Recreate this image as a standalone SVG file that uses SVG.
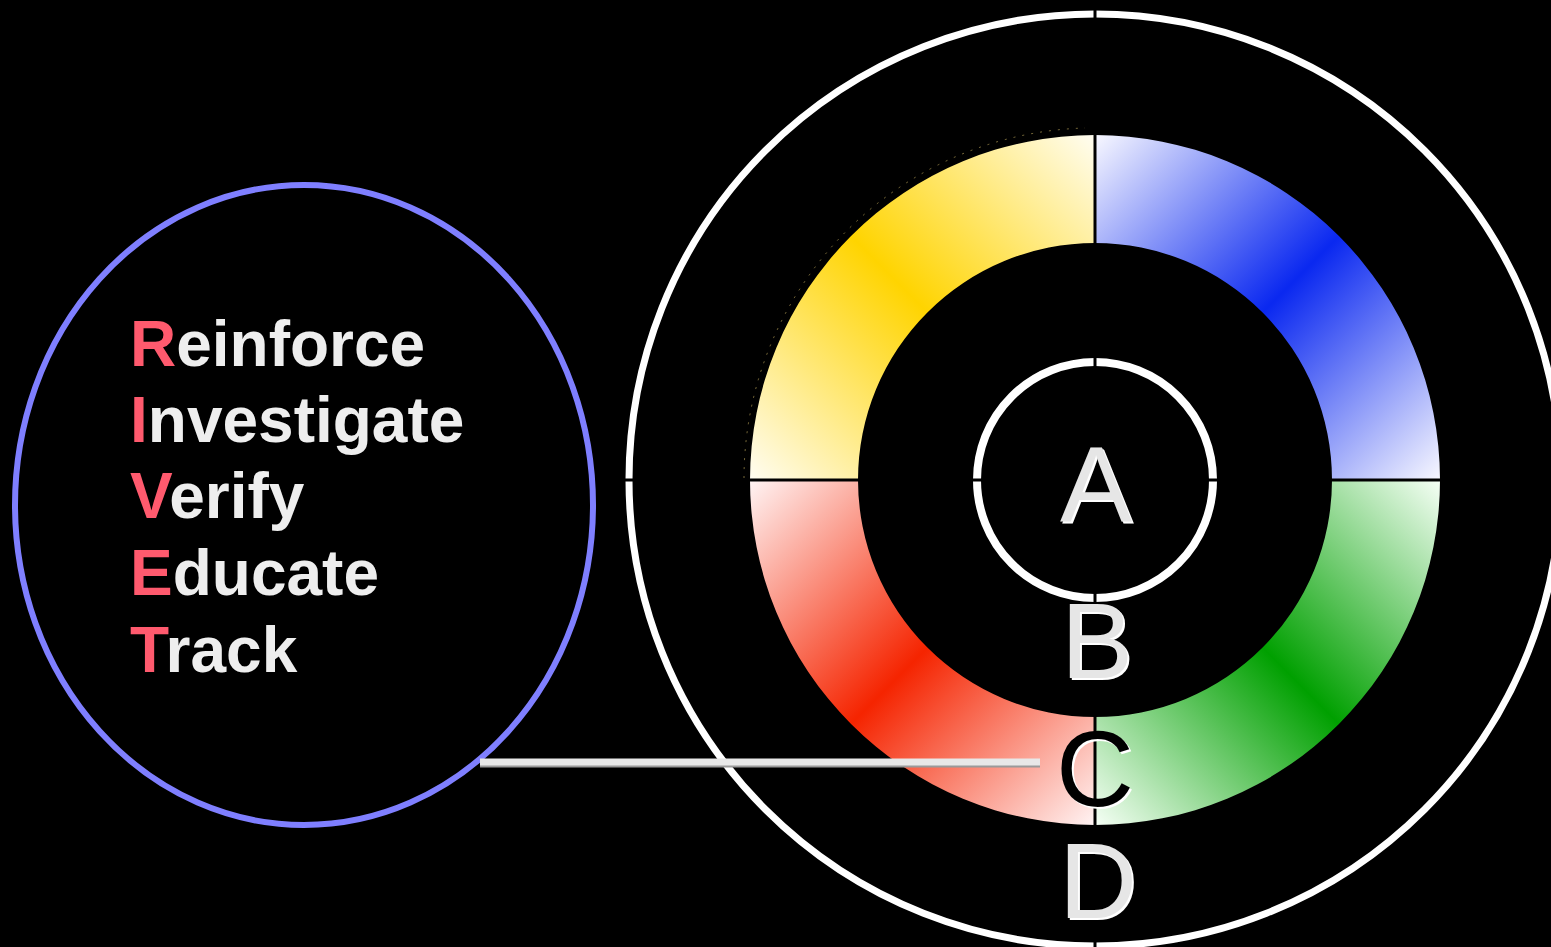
<svg xmlns="http://www.w3.org/2000/svg" width="1551" height="947" viewBox="0 0 1551 947">
<style>
.bg{fill:#000}
.wring{fill:none;stroke:#fff}
.axis{stroke:#000;stroke-width:3}
.big{font-family:"Liberation Sans",Arial,sans-serif;font-size:108px;text-anchor:middle}
.lst{font-family:"Liberation Sans",Arial,sans-serif;font-weight:bold;font-size:64px;fill:#eeeeee}
.ini{fill:#ff5a6e}
</style>
<defs>
<linearGradient id="gY" gradientUnits="userSpaceOnUse" x1="1095" y1="135" x2="750" y2="480">
<stop offset="0" stop-color="#fffdf2"/><stop offset="0.5" stop-color="#ffd400"/><stop offset="1" stop-color="#fffdf2"/>
</linearGradient>
<linearGradient id="gB" gradientUnits="userSpaceOnUse" x1="1095" y1="135" x2="1440" y2="480">
<stop offset="0" stop-color="#f8f8ff"/><stop offset="0.5" stop-color="#0a28f0"/><stop offset="1" stop-color="#f8f8ff"/>
</linearGradient>
<linearGradient id="gG" gradientUnits="userSpaceOnUse" x1="1440" y1="480" x2="1095" y2="825">
<stop offset="0" stop-color="#f6fff6"/><stop offset="0.5" stop-color="#00a000"/><stop offset="1" stop-color="#f6fff6"/>
</linearGradient>
<linearGradient id="gR" gradientUnits="userSpaceOnUse" x1="1095" y1="825" x2="750" y2="480">
<stop offset="0" stop-color="#fff4f4"/><stop offset="0.5" stop-color="#f52400"/><stop offset="1" stop-color="#fff4f4"/>
</linearGradient>
</defs>
<rect class="bg" x="0" y="0" width="1551" height="947"/>

<g id="riveit">
<ellipse cx="304" cy="505" rx="289" ry="320" fill="none" stroke="#7f7fff" stroke-width="6"/>
<text class="lst" x="130" y="366"><tspan class="ini">R</tspan>einforce</text>
<text class="lst" x="130" y="442"><tspan class="ini">I</tspan>nvestigate</text>
<text class="lst" x="130" y="518"><tspan class="ini">V</tspan>erify</text>
<text class="lst" x="130" y="595"><tspan class="ini">E</tspan>ducate</text>
<text class="lst" x="130" y="672"><tspan class="ini">T</tspan>rack</text>
</g>

<g id="ringD">
<circle class="wring" cx="1095" cy="480" r="466" stroke-width="7"/>
</g>

<g id="ringC">
<path d="M750,480 A345,345 0 0 1 1095,135 L1095,243 A237,237 0 0 0 858,480 Z" fill="url(#gY)"/>
<path d="M1095,135 A345,345 0 0 1 1440,480 L1332,480 A237,237 0 0 0 1095,243 Z" fill="url(#gB)"/>
<path d="M1440,480 A345,345 0 0 1 1095,825 L1095,717 A237,237 0 0 0 1332,480 Z" fill="url(#gG)"/>
<path d="M1095,825 A345,345 0 0 1 750,480 L858,480 A237,237 0 0 0 1095,717 Z" fill="url(#gR)"/>
<path d="M744,478 A351,351 0 0 1 1085,128" fill="none" stroke="#c8b060" stroke-width="1" stroke-dasharray="2 7" opacity="0.6"/>
</g>

<g id="ringA">
<circle class="wring" cx="1095" cy="480" r="118" stroke-width="8"/>
</g>

<g id="connectors">
<line class="axis" x1="1095" y1="0" x2="1095" y2="947"/>
<line class="axis" x1="615" y1="480" x2="1551" y2="480"/>
<line x1="480" y1="764" x2="1040" y2="764" stroke="#9a9a9a" stroke-width="7"/>
<line x1="480" y1="762" x2="1040" y2="762" stroke="#e8e8e8" stroke-width="7"/>
</g>

<g id="labels">
<text class="big" x="1098" y="524" fill="#fff">A</text>
<text class="big" x="1096" y="522" fill="#e6e6e6">A</text>
<text class="big" x="1099" y="680" fill="#fff">B</text>
<text class="big" x="1097" y="678" fill="#e6e6e6">B</text>
<text class="big" x="1097" y="808" fill="#fff">C</text>
<text class="big" x="1095" y="806" fill="#000">C</text>
<text class="big" x="1100" y="920" fill="#fff">D</text>
<text class="big" x="1098" y="918" fill="#e6e6e6">D</text>
</g>
</svg>
